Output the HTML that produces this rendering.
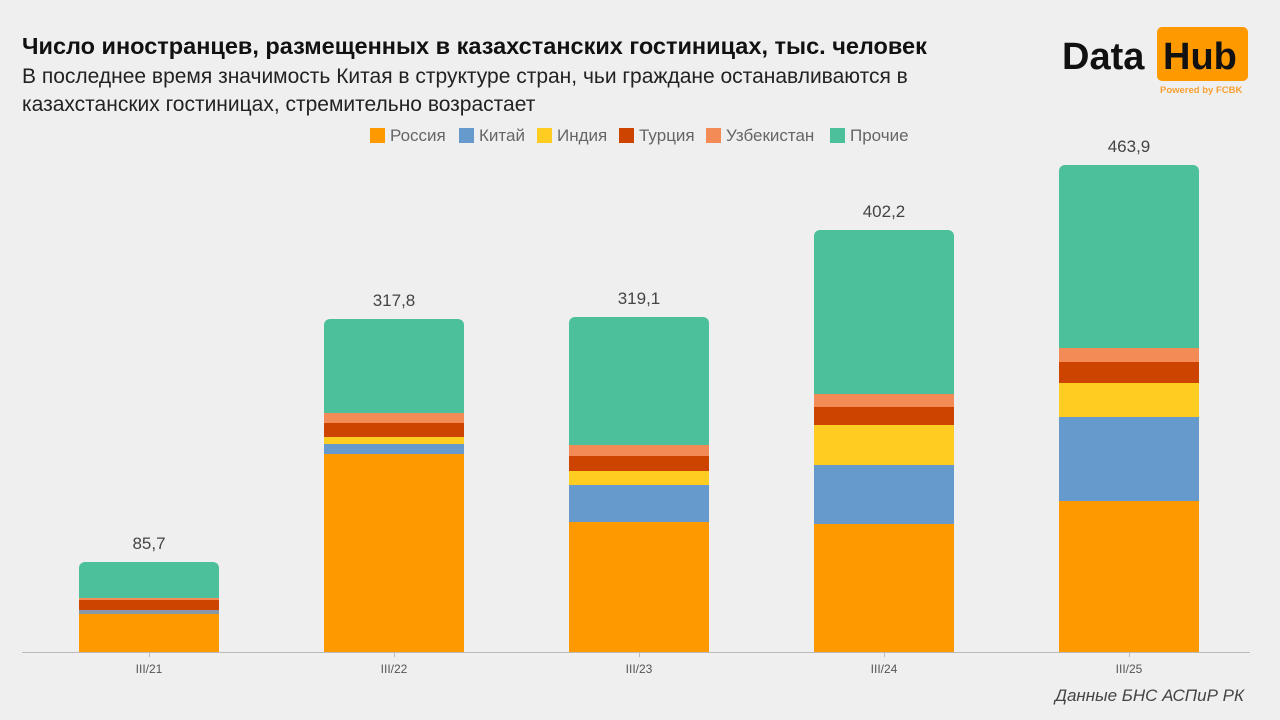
<!DOCTYPE html>
<html><head><meta charset="utf-8"><style>
body{margin:0;width:1280px;height:720px;background:#efefef;font-family:"Liberation Sans",sans-serif;position:relative;overflow:hidden}
.t{position:absolute;left:22px;top:33px;font-size:23.5px;font-weight:bold;color:#111;white-space:nowrap}
.s{position:absolute;left:22px;top:63px;font-size:21px;color:#222;line-height:28px;width:1000px}
.logo{position:absolute;left:1062px;top:36px;font-size:38px;font-weight:bold;color:#111}
.hub{position:absolute;left:1157px;top:27px;width:91px;height:54px;background:#ff9900;border-radius:5px}
.hubt{position:absolute;left:1163px;top:36px;font-size:38px;font-weight:bold;color:#111}
.pw{position:absolute;left:1160px;top:85px;font-size:9.5px;font-weight:bold;color:#f7a030}
.leg{position:absolute;top:126px;font-size:17px;color:#666}
.leg span{display:inline-block;width:15px;height:15px;vertical-align:-2px;margin-right:5px}
.bar{position:absolute;width:140px;border-radius:6px 6px 0 0;overflow:hidden}
.seg{position:absolute;left:0;width:140px}
.v{position:absolute;width:140px;text-align:center;font-size:17px;color:#444}
.x{position:absolute;width:140px;text-align:center;font-size:12px;color:#555;top:662px}
.axis{position:absolute;left:22px;top:652px;width:1228px;height:1px;background:#bbb}
.src{position:absolute;right:36px;top:686px;font-size:17px;font-style:italic;color:#444}
</style></head><body>
<div class="t">Число иностранцев, размещенных в казахстанских гостиницах, тыс. человек</div>
<div class="s">В последнее время значимость Китая в структуре стран, чьи граждане останавливаются в<br>казахстанских гостиницах, стремительно возрастает</div>
<div class="logo">Data</div><div class="hub"></div><div class="hubt">Hub</div><div class="pw">Powered by FCBK</div>
<div class="leg" style="left:370px"><span style="background:#ff9900"></span>Россия</div>
<div class="leg" style="left:459px"><span style="background:#6699cc"></span>Китай</div>
<div class="leg" style="left:537px"><span style="background:#ffcc22"></span>Индия</div>
<div class="leg" style="left:619px"><span style="background:#cc4400"></span>Турция</div>
<div class="leg" style="left:706px"><span style="background:#f28b55"></span>Узбекистан</div>
<div class="leg" style="left:830px"><span style="background:#4cbf9b"></span>Прочие</div>
<div id="c"></div>
<div class="axis"></div>
<div class="src">Данные БНС АСПиР РК</div>
<script>
var cols=['#ff9900','#6699cc','#ffcc22','#cc4400','#f28b55','#4cbf9b'];
var bars=[[79,'85,7','III/21',[614,610,610,600,598,562]],
[324,'317,8','III/22',[454,444,437,423,413,319]],
[569,'319,1','III/23',[522,485,471,456,445,317]],
[814,'402,2','III/24',[524,465,425,407,394,230]],
[1059,'463,9','III/25',[501,417,383,362,348,165]]];
var h='';
bars.forEach(function(b){var x=b[0],t=b[3],top=t[5];
h+='<div class="bar" style="left:'+x+'px;top:'+top+'px;height:'+(652-top)+'px">';
var prev=652;
for(var i=0;i<6;i++){var y=t[i];
h+='<div class="seg" style="top:'+(y-top)+'px;height:'+(prev-y)+'px;background:'+cols[i]+'"></div>';prev=y;}
if(b[2]=='III/21'){h+='<div class="seg" style="top:'+(610-top)+'px;height:4px;background:#8a97a8"></div>';}
h+='</div><div class="v" style="left:'+x+'px;top:'+(top-28)+'px">'+b[1]+'</div><div class="x" style="left:'+x+'px">'+b[2]+'</div>';
h+='<div style="position:absolute;left:'+(x+70)+'px;top:652px;width:1px;height:5px;background:#bbb"></div>';});
document.getElementById('c').innerHTML=h;
</script>
</body></html>
